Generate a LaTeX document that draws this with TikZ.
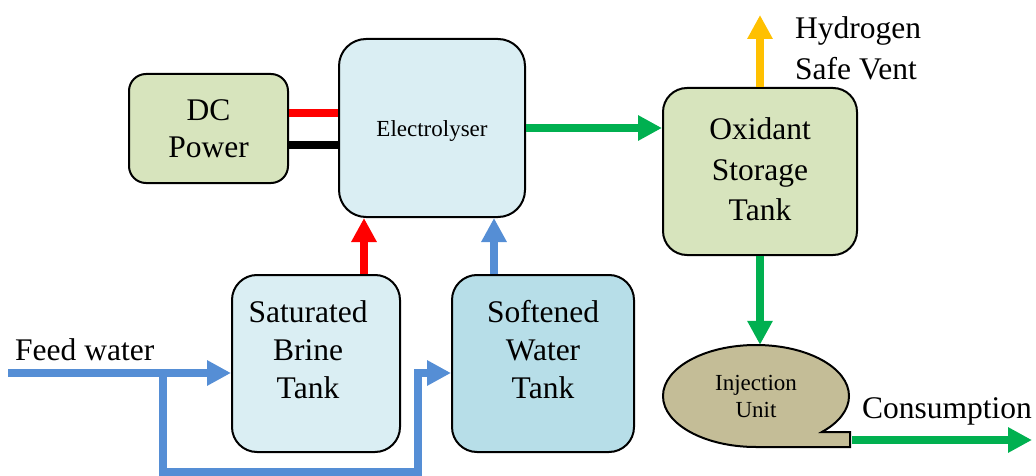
\documentclass[tikz,border=0pt]{standalone}
\usepackage{fontspec}
\setmainfont{Liberation Serif}
\usetikzlibrary{arrows.meta,shapes.geometric}
\definecolor{olivefill}{HTML}{D7E4BD}
\definecolor{lightblue}{HTML}{DAEEF3}
\definecolor{tealfill}{HTML}{B7DEE8}
\definecolor{injfill}{HTML}{C4BD97}
\definecolor{flowblue}{HTML}{558ED5}
\definecolor{flowgreen}{HTML}{00B050}
\definecolor{flowyellow}{HTML}{FFC000}
\definecolor{wirered}{HTML}{FF0000}
\newcommand\stk[1]{\begin{tabular}{@{}c@{}}#1\end{tabular}}
\begin{document}
\begin{tikzpicture}[x=1pt,y=-1pt,
  bigfont/.style={font=\fontsize{31.5pt}{39pt}\selectfont},
  tankfont/.style={font=\fontsize{31.5pt}{38pt}\selectfont},
  smallfont/.style={font=\fontsize{23pt}{27pt}\selectfont},
  box/.style={draw=black, line width=2pt, rounded corners=#1, inner sep=0pt, bigfont},
  txt/.style={inner sep=0pt, align=center},
  flow/.style={line width=8.5pt, -{Triangle[length=24pt,width=24pt]}},
  wire/.style={line width=7.5pt},
  lbl/.style={anchor=base west, inner sep=0pt, bigfont}]
\useasboundingbox (0,0) rectangle (1036,476);

% boxes
\node[box=17pt, fill=olivefill, minimum width=159pt, minimum height=109pt, align=center,
      font=\fontsize{31.5pt}{37pt}\selectfont] (dc) at (208.5,128.5) {DC\\Power};
\node[box=27pt, fill=lightblue, minimum width=186pt, minimum height=178pt,
      label={[txt, smallfont, yshift=-3pt]center:Electrolyser}] (elec) at (432,128) {};
\node[box=25pt, fill=lightblue, minimum width=168pt, minimum height=177pt,
      label={[txt, tankfont, xshift=-8pt, yshift=14pt]center:{Saturated\\Brine\\Tank}}] (brine) at (316,363.5) {};
\node[box=25pt, fill=tealfill, minimum width=182pt, minimum height=177pt,
      label={[txt, tankfont, yshift=14pt]center:{Softened\\Water\\Tank}}] (soft) at (543,363.5) {};
\node[box=24pt, fill=olivefill, minimum width=194pt, minimum height=167pt,
      label={[txt, font=\fontsize{31.5pt}{40.5pt}\selectfont, yshift=2pt]center:{Oxidant\\Storage\\Tank}}] (ox) at (760,171.5) {};

% injection unit (tape-like callout)
\coordinate (injc) at (756,396);
\coordinate (tailt) at (850,432);
\coordinate (tailb) at (850,447);
\filldraw[fill=injfill, draw=black, line width=2pt, line join=miter]
  ([yshift=-51pt]injc) arc[start angle=270, end angle=-45, x radius=93pt, y radius=51pt]
  -- (tailt) -- (tailb) -- cycle;
\node[ellipse, inner sep=0pt, minimum width=186pt, minimum height=102pt, align=center, smallfont]
  (inj) at (injc) {Injection\\Unit};

% DC wires
\coordinate (dcr) at ([yshift=15.5pt]dc.east);
\coordinate (dcb) at ([yshift=-16.5pt]dc.east);
\draw[wire, wirered] (dcr) -- (dcr -| elec.west);
\draw[wire, black] (dcb) -- (dcb -| elec.west);

% electrolyser -> oxidant
\draw[flow, flowgreen] (elec.east) -- (elec.east -| ox.west);

% tanks -> electrolyser
\coordinate (rb) at ([xshift=48pt]brine.north);
\coordinate (bs) at ([xshift=-49pt]soft.north);
\draw[flow, wirered] (rb) -- (rb |- elec.south);
\draw[flow, flowblue] (bs) -- (bs |- elec.south);

% feed water
\coordinate (feed) at (8,373);
\coordinate (jn) at (163,373);
\coordinate (lo) at (418,472);
\draw[flow, flowblue] (feed) -- (feed -| brine.west);
\draw[flow, flowblue, line join=miter] (jn) |- (lo) -- (lo |- feed) -- (feed -| soft.west);

% vent and oxidant outflows
\coordinate (vent) at (761,15);
\draw[flow, flowyellow] (ox.north) -- (ox.north |- vent);
\draw[flow, flowgreen] (ox.south) -- (ox.south |- inj.north);
\coordinate (tailm) at (852,440);
\coordinate (cons) at (1032,440);
\draw[flow, flowgreen] (tailm) -- (cons);

% labels
\node[lbl] (feedlbl) at (15,360) {Feed water};
\node[lbl] (conslbl) at (862,418) {Consumption};
\node[lbl] (h2a) at (795,39) {Hydrogen};
\node[lbl] (h2b) at (795,80) {Safe Vent};
\end{tikzpicture}
\end{document}
